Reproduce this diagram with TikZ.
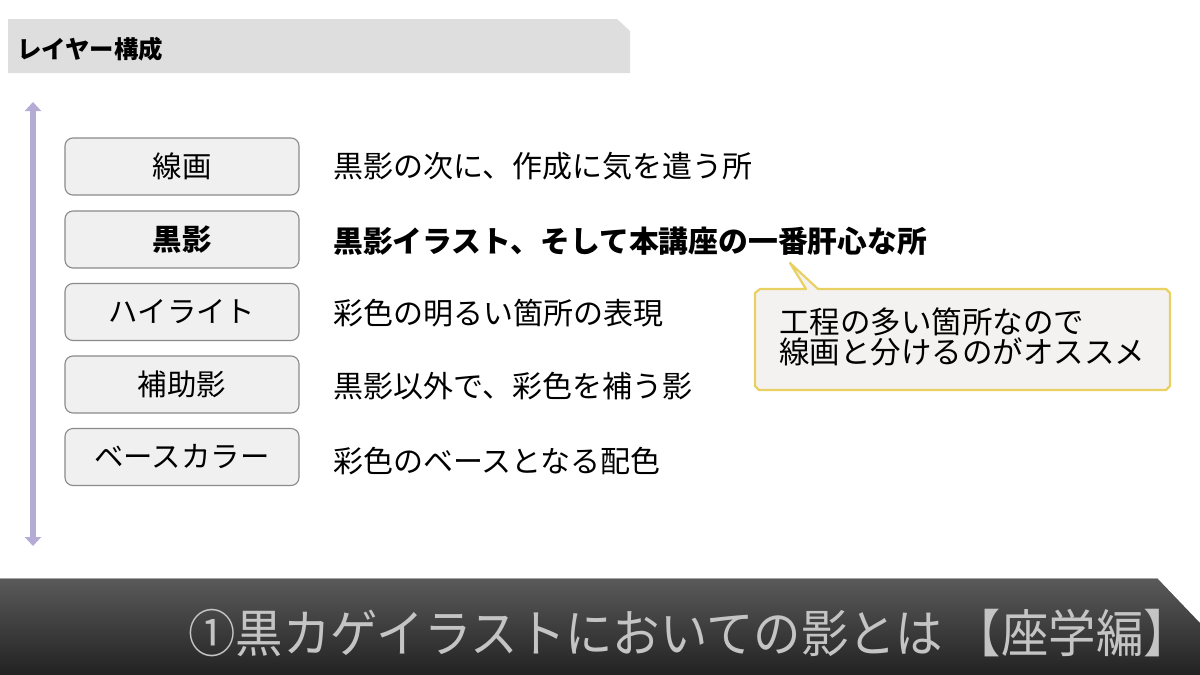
\documentclass[tikz,border=0pt]{standalone}
\usepackage{fontspec}
\newfontfamily\jp{Noto Sans CJK JP}
\usetikzlibrary{arrows.meta,shadings}
\definecolor{hdrgray}{HTML}{DEDEDE}
\definecolor{boxfill}{HTML}{F0F0F0}
\definecolor{boxline}{HTML}{8A8A8A}
\definecolor{lav}{HTML}{B5ACD6}
\definecolor{callfill}{HTML}{F4F2F0}
\definecolor{callline}{HTML}{E8D162}
\definecolor{titletxt}{HTML}{C4C4C4}
\definecolor{bartop}{HTML}{5A5A5A}
\definecolor{barbot}{HTML}{222222}
\tikzset{
  layerbox/.style={draw=boxline, line width=1.1pt, fill=boxfill, rounded corners=8pt,
    minimum width=234pt, minimum height=57pt, inner sep=0pt, font=\jp\fontsize{29.4}{31}\selectfont},
  desc/.style={anchor=west, inner sep=0pt, font=\jp\fontsize{30}{32}\selectfont},
}
\begin{document}
\begin{tikzpicture}[x=1pt,y=-1pt]
\useasboundingbox (0,0) rectangle (1200,675);
\fill[white] (0,0) rectangle (1200,675);
% header bar
\fill[hdrgray] (8,19) -- (617,19) -- (630,31) -- (630,73) -- (8,73) -- cycle;
\node[anchor=west, inner sep=0pt, font=\jp\bfseries\fontsize{24.4}{26}\selectfont] (hdr) at (17,49) {レイヤー構成};
% vertical arrow
\coordinate (atop) at (33,102);
\coordinate (abot) at (33,546);
\draw[lav, line width=6pt, {Triangle[width=16pt,length=9pt]}-{Triangle[width=16pt,length=9pt]}] (atop) -- (abot);
% boxes
\node[layerbox] (b1) at (182,166.5) {線画};
\node[layerbox, font=\jp\bfseries\fontsize{29.4}{31}\selectfont] (b2) at (182,239.5) {黒影};
\node[layerbox] (b3) at (182,312) {ハイライト};
\node[layerbox] (b4) at (182,384.5) {補助影};
\node[layerbox] (b5) at (182,457) {ベースカラー};
% descriptions
\node[desc] (d1) at (333,166.5) {黒影の次に、作成に気を遣う所};
\node[desc, font=\jp\bfseries\fontsize{29.8}{31}\selectfont] (d2) at (333,241) {黒影イラスト、そして本講座の一番肝心な所};
\node[desc] (d3) at (333,313) {彩色の明るい箇所の表現};
\node[desc] (d4) at (333,386) {黒影以外で、彩色を補う影};
\node[desc] (d5) at (333,461) {彩色のベースとなる配色};
% callout
\draw[callline, fill=callfill, line width=2.2pt, line join=round]
  (760,289) -- (806,289) -- (790,263) -- (818,289) -- (1166,289)
  -- (1170,293) -- (1170,386) -- (1166,390) -- (759,390) -- (755,386) -- (755,293) -- cycle;
\node[anchor=west, inner sep=0pt, align=left, font=\jp\fontsize{30.5}{30}\selectfont] (call) at (779,337) {工程の多い箇所なので\\線画と分けるのがオススメ};
% bottom bar
\shade[top color=bartop, bottom color=barbot] (0,578) -- (1157,578) -- (1200,623) -- (1200,675) -- (0,675) -- cycle;
\draw[gray!70, line width=1pt] (0,578.5) -- (1157,578.5);
\node[anchor=west, inner sep=0pt, text=titletxt, yscale=1.08, font=\jp\fontsize{47.4}{49}\selectfont] (title) at (188,633) {①黒カゲイラストにおいての影とは 【座学編】};
\end{tikzpicture}
\end{document}
